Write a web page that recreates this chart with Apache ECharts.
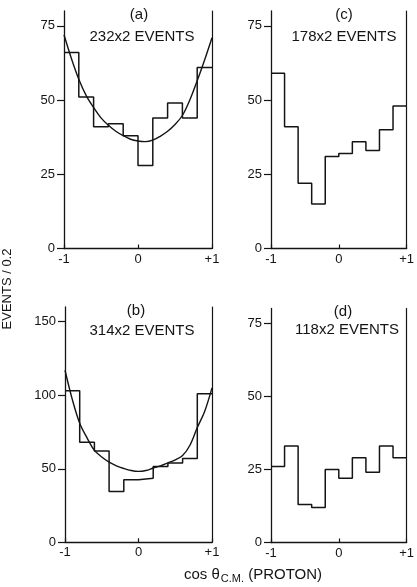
<!DOCTYPE html>
<html>
<head>
<meta charset="utf-8">
<script src="https://cdn.jsdelivr.net/npm/echarts@6/dist/echarts.min.js"></script>
<style>
html,body{margin:0;padding:0;background:#fff;}
#chart{width:417px;height:587px;}
</style>
</head>
<body>
<div id="chart"></div>
<script>
// ---- data ----
const binEdges = [-1, -0.8, -0.6, -0.4, -0.2, 0, 0.2, 0.4, 0.6, 0.8, 1];
const histA = [66, 51, 41, 42, 38, 28, 44, 49, 44, 61];
const histB = [103, 68, 62, 34.5, 42.5, 43.5, 51.5, 54, 57, 101];
const histC = [59, 41, 22, 15, 31, 32, 36, 33, 40, 48];
const histD = [26, 33, 13, 12, 25, 22, 29, 24, 33, 29];
const curveX = [-1, -0.9, -0.8, -0.7, -0.6, -0.5, -0.4, -0.3, -0.2, -0.1, 0, 0.1, 0.2, 0.3, 0.4, 0.5, 0.6, 0.7, 0.8, 0.9, 1];
const curveA = [72, 64, 57, 51.5, 47.5, 44, 41.5, 39.5, 38, 36.8, 36.2, 36, 36.5, 37.8, 39.5, 41.8, 44.8, 50, 56.5, 63.5, 71];
const curveB = [117, 97, 81, 71, 62.5, 58, 54.5, 52, 50.2, 48.8, 48.2, 48.8, 50.5, 52, 54, 56, 59, 66, 78, 89, 105];
const panelLabels = ['(a)', '(c)', '(b)', '(d)'];
const panelEvents = ['232x2 EVENTS', '178x2 EVENTS', '314x2 EVENTS', '118x2 EVENTS'];
const yTicksSmall = [0, 25, 50, 75];
const yTicksBig = [0, 50, 100, 150];
const xTicks = [-1, 0, 1];
const yTitle = 'EVENTS / 0.2';

const INK = '#141414';
const FONT = "'Liberation Sans', Arial, sans-serif";

function stepData(hist) {
  const pts = hist.map((v, i) => [binEdges[i], v]);
  pts.push([binEdges[binEdges.length - 1], hist[hist.length - 1]]);
  return pts;
}
function curveData(ys) { return curveX.map((x, i) => [x, ys[i]]); }

const grids = [
  {left: 64, top: 11, width: 148, height: 237.5},
  {left: 271, top: 11, width: 145.5, height: 237.5},
  {left: 65, top: 307, width: 147, height: 235.3},
  {left: 271, top: 308.5, width: 145.5, height: 234}
];
const yMax = [80, 80, 160, 80];
const yTickSets = [yTicksSmall, yTicksSmall, yTicksBig, yTicksSmall];

const xAxes = grids.map((g, i) => ({
  type: 'value', gridIndex: i, min: -1, max: 1, interval: 1,
  axisLine: {show: true, onZero: false, lineStyle: {color: INK, width: 1.3}},
  axisTick: {show: true, inside: true, length: 4, lineStyle: {color: INK, width: 1.2}},
  splitLine: {show: false},
  axisLabel: {
    color: INK, fontFamily: FONT, fontSize: 13, margin: 4,
    customValues: xTicks,
    formatter: v => v > 0 ? '+' + v : String(v)
  }
}));

const yAxes = [];
grids.forEach((g, i) => {
  yAxes.push({
    type: 'value', gridIndex: i, min: 0, max: yMax[i], position: 'left',
    axisLine: {show: true, onZero: false, lineStyle: {color: INK, width: 1.3}},
    axisTick: {show: true, length: 7, customValues: yTickSets[i], lineStyle: {color: INK, width: 1.2}},
    splitLine: {show: false},
    axisLabel: {color: INK, fontFamily: FONT, fontSize: 13, margin: 9, customValues: yTickSets[i]}
  });
  yAxes.push({
    type: 'value', gridIndex: i, min: 0, max: yMax[i], position: 'right',
    axisLine: {show: true, onZero: false, lineStyle: {color: INK, width: 1.2}},
    axisTick: {show: false}, axisLabel: {show: false}, splitLine: {show: false}
  });
});

const hists = [histA, histC, histB, histD];
const series = [];
hists.forEach((h, i) => {
  series.push({
    type: 'line', xAxisIndex: i, yAxisIndex: i * 2, step: 'end',
    data: stepData(h), symbol: 'none', silent: true,
    lineStyle: {color: INK, width: 1.5}
  });
});
series.push({
  type: 'line', xAxisIndex: 0, yAxisIndex: 0, data: curveData(curveA),
  smooth: 0.35, symbol: 'none', silent: true, lineStyle: {color: INK, width: 1.4}
});
series.push({
  type: 'line', xAxisIndex: 2, yAxisIndex: 4, data: curveData(curveB),
  smooth: 0.35, symbol: 'none', silent: true, lineStyle: {color: INK, width: 1.4}
});

const labelPos = [
  {lx: 139, ly: 15, ex: 142, ey: 37},
  {lx: 344, ly: 15, ex: 344, ey: 37},
  {lx: 136, ly: 311, ex: 142, ey: 331},
  {lx: 343, ly: 312, ex: 347, ey: 330}
];
const graphics = [];
labelPos.forEach((p, i) => {
  graphics.push({type: 'text', x: p.lx, y: p.ly, style: {text: panelLabels[i], fill: INK, font: '15px ' + FONT, textAlign: 'center', textVerticalAlign: 'middle'}});
  graphics.push({type: 'text', x: p.ex, y: p.ey, style: {text: panelEvents[i], fill: INK, font: '15px ' + FONT, textAlign: 'center', textVerticalAlign: 'middle'}});
});
graphics.push({
  type: 'text', x: 7, y: 289, rotation: Math.PI / 2,
  style: {text: yTitle, fill: INK, font: '13px ' + FONT, textAlign: 'center', textVerticalAlign: 'middle'}
});
graphics.push({
  type: 'text', x: 253, y: 575,
  style: {
    text: '{a|cos \u03b8}{s|C.M.}{a| (PROTON)}',
    textAlign: 'center', textVerticalAlign: 'middle',
    rich: {
      a: {fontFamily: FONT, fontSize: 15, fill: INK, color: INK},
      s: {fontFamily: FONT, fontSize: 11, fill: INK, color: INK, padding: [8, 0, 0, 1]}
    }
  }
});

const chart = echarts.init(document.getElementById('chart'), null, {renderer: 'canvas'});
chart.setOption({
  backgroundColor: '#fff',
  animation: false,
  grid: grids,
  xAxis: xAxes,
  yAxis: yAxes,
  series: series,
  graphic: graphics
});
</script>
</body>
</html>
